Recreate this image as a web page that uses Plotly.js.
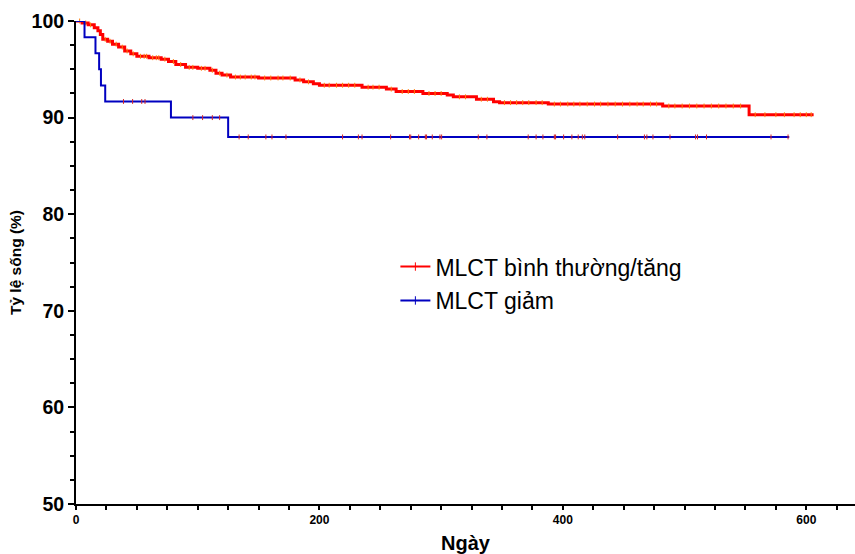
<!DOCTYPE html>
<html>
<head>
<meta charset="utf-8">
<script src="https://cdn.plot.ly/plotly-3.0.1.min.js"></script>
<style>html,body{margin:0;padding:0;background:#fff;}#chart{width:855px;height:554px;}</style>
</head>
<body>
<div id="chart"></div>
<script>
// Series names
const seriesNames = ["MLCT bình thường/tăng", "MLCT giảm"];

// Red group: step times (days) and survival (%) after each step
const redTimes = [0, 5, 10, 15, 18, 20, 22, 26, 30, 35, 40, 45, 50, 60, 70, 76, 82, 90, 100, 110, 115, 120, 127, 150, 180, 187, 195, 200, 235, 255, 263, 285, 305, 310, 329, 343, 348, 388, 482, 553];
const redSurv  = [100, 99.8, 99.6, 99.3, 99.0, 98.6, 98.1, 97.9, 97.6, 97.3, 96.9, 96.6, 96.35, 96.2, 96.05, 95.8, 95.5, 95.2, 95.1, 94.9, 94.6, 94.4, 94.2, 94.1, 93.9, 93.7, 93.5, 93.35, 93.15, 92.95, 92.7, 92.5, 92.35, 92.15, 91.9, 91.65, 91.55, 91.4, 91.2, 90.3];
const redEnd = 606;
const redCensor = [3, 8, 12, 24, 28, 33, 38, 42, 47, 53, 56, 58, 63, 66, 68, 73, 80, 86, 93, 96, 103, 106, 112, 118, 124, 131, 135, 139, 144, 147, 155, 160, 166, 170, 176, 184, 191, 204, 208, 214, 219, 224, 229, 240, 244, 249, 259, 268, 273, 278, 290, 295, 300, 315, 320, 333, 338, 352, 357, 362, 367, 372, 378, 383, 393, 398, 404, 409, 414, 420, 426, 431, 437, 443, 449, 455, 461, 466, 472, 477, 487, 492, 498, 504, 510, 516, 522, 528, 534, 540, 546, 558, 566, 575, 582, 590, 595, 600, 604];

// Blue group
const blueTimes = [0, 7, 16, 19, 20.5, 24, 78, 125];
const blueSurv  = [100, 98.33, 96.67, 95.0, 93.33, 91.67, 90.0, 88.0];
const blueEnd = 586;
const blueCensor = [39, 46.5, 54, 56.7, 96, 104, 112, 118, 134, 141.5, 156, 161, 172.5, 219, 232, 235, 258.5, 274, 275, 281.5, 287, 288, 292.7, 299, 300.4, 330.5, 337.6, 371.5, 378, 383.6, 393, 394, 400.6, 407.4, 412.6, 416, 418, 445, 467, 469, 474, 488, 509, 510.6, 518, 571, 585];

// Axis ticks
const xTickVals = [0, 200, 400, 600];
const yTickVals = [50, 60, 70, 80, 90, 100];

function survAt(times, surv, t) {
  let v = surv[0];
  for (let i = 0; i < times.length; i++) { if (times[i] <= t) v = surv[i]; }
  return v;
}
function stepTrace(times, surv, end, color, width) {
  return {
    x: times.concat([end]), y: surv.concat([surv[surv.length - 1]]),
    mode: 'lines', line: {shape: 'hv', color: color, width: width},
    showlegend: false, hoverinfo: 'skip', cliponaxis: false
  };
}
function censorTrace(times, surv, cens, color) {
  return {
    x: cens, y: cens.map(t => survAt(times, surv, t)),
    mode: 'markers', marker: {symbol: 'line-ns-open', size: 3.5, line: {color: color, width: 1}},
    showlegend: false, hoverinfo: 'skip', cliponaxis: false
  };
}
function legendTrace(name, color) {
  return {
    x: [null], y: [null], name: name, mode: 'lines+markers', legendgroup: name,
    line: {color: color, width: 2},
    marker: {symbol: 'line-ns-open', size: 6, line: {color: color, width: 1}}
  };
}

const data = [
  stepTrace(redTimes, redSurv, redEnd, '#ff0000', 3),
  censorTrace(redTimes, redSurv, redCensor, '#ff4040'),
  stepTrace(blueTimes, blueSurv, blueEnd, '#0000c0', 2),
  censorTrace(blueTimes, blueSurv, blueCensor, '#202050'),
  legendTrace(seriesNames[0], '#ff0000'),
  legendTrace(seriesNames[1], '#0000c0')
];

const layout = {
  width: 855, height: 554,
  margin: {l: 76, r: 0, t: 21, b: 50},
  paper_bgcolor: '#fff', plot_bgcolor: '#fff',
  font: {family: 'Liberation Sans, Arial, sans-serif', color: '#000'},
  xaxis: {
    range: [0, 640], showgrid: false, zeroline: false,
    showline: true, linecolor: '#000', linewidth: 2,
    tickmode: 'array', tickvals: xTickVals, ticks: 'outside', ticklen: 4, tickwidth: 2, tickcolor: '#000',
    minor: {dtick: 25, tick0: 0, ticks: 'outside', ticklen: 4, tickwidth: 2, tickcolor: '#000'},
    tickfont: {family: 'Liberation Sans Narrow, Liberation Sans, Arial', size: 12, color: '#000', weight: 'bold'},
    title: {text: '<b>Ngày</b>', font: {size: 20, family: 'Liberation Sans Narrow, Liberation Sans, Arial'}, standoff: 10}
  },
  yaxis: {
    range: [50, 100], showgrid: false, zeroline: false,
    showline: true, linecolor: '#000', linewidth: 2,
    tickmode: 'array', tickvals: yTickVals, ticks: 'outside', ticklen: 6, tickwidth: 2, tickcolor: '#000',
    minor: {dtick: 2.5, tick0: 50, ticks: 'outside', ticklen: 4, tickwidth: 2, tickcolor: '#000'},
    tickfont: {size: 19.5, color: '#000', weight: 'bold'},
    title: {text: '<b>Tỷ lệ sống (%)</b>', font: {size: 15.5}, standoff: 6}
  },
  legend: {
    x: 0.41, y: 0.536, xanchor: 'left', yanchor: 'top',
    font: {size: 23, color: '#000'}, bgcolor: 'rgba(0,0,0,0)',
    itemwidth: 30, tracegroupgap: 1
  }
};

Plotly.newPlot('chart', data, layout, {staticPlot: true, displayModeBar: false});
</script>
</body>
</html>
